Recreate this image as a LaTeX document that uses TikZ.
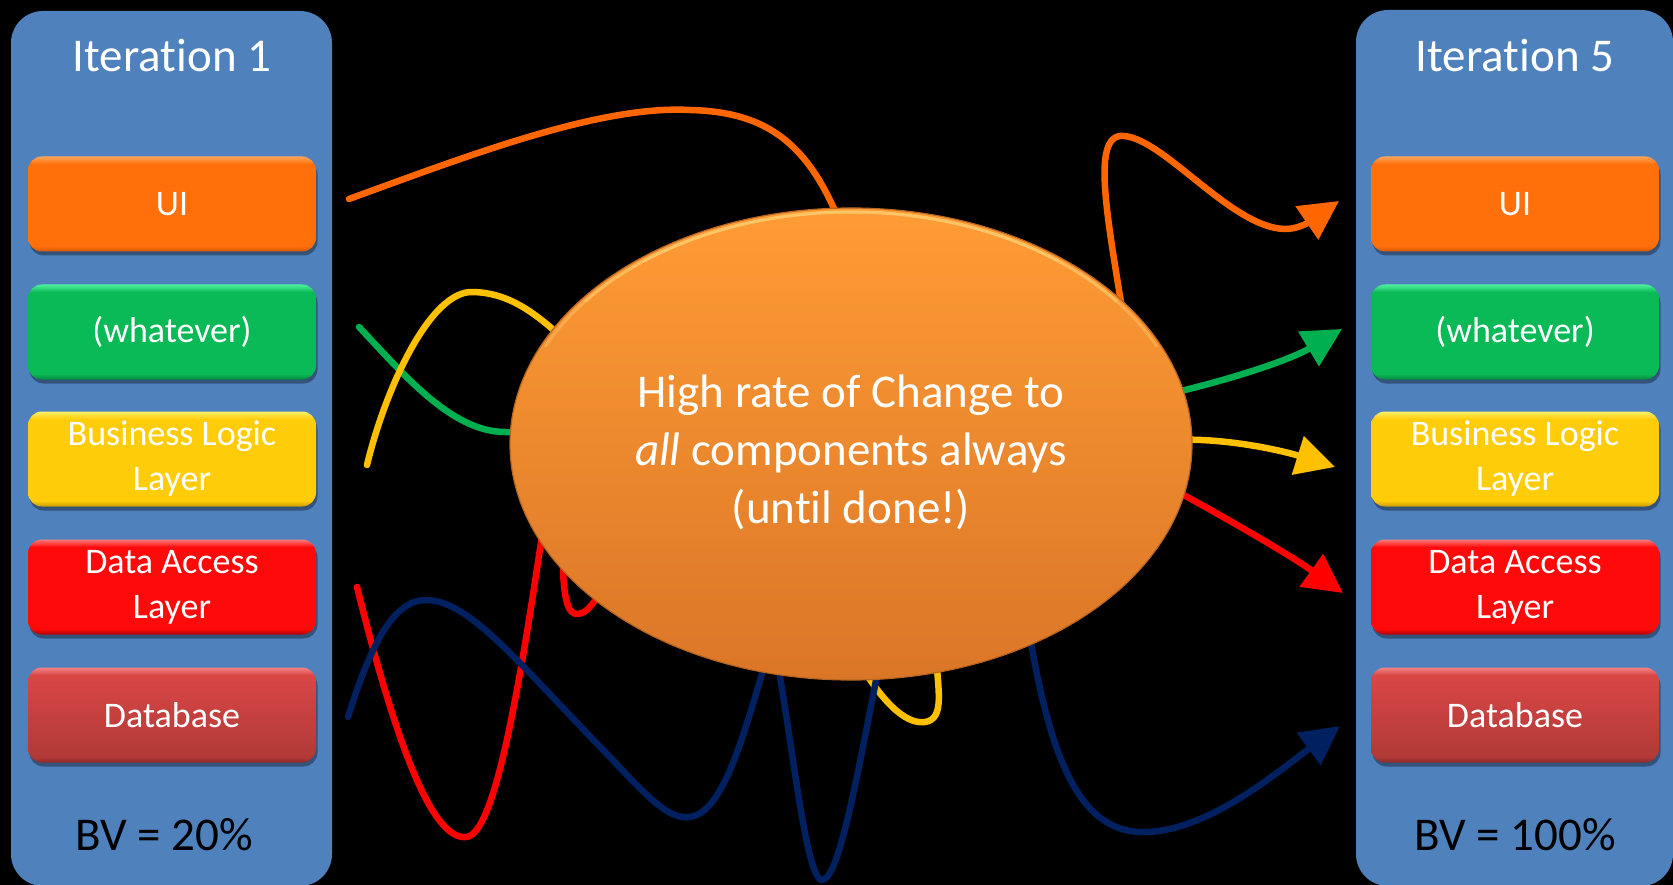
\documentclass[tikz,border=0pt]{standalone}
\usepackage{fontspec}
\setmainfont{Carlito}[Ligatures=CommonOff]
\usetikzlibrary{arrows.meta,shapes.geometric,shadows}
\definecolor{panelblue}{HTML}{4F81BD}
\definecolor{uiD}{HTML}{D65A00}\definecolor{uiM}{HTML}{FF6F0A}\definecolor{uiL}{HTML}{FFA55A}
\definecolor{grD}{HTML}{06873E}\definecolor{grM}{HTML}{0ABA56}\definecolor{grL}{HTML}{4DF29A}
\definecolor{yeD}{HTML}{C99A00}\definecolor{yeM}{HTML}{FFCC0A}\definecolor{yeL}{HTML}{FFF06A}
\definecolor{reD}{HTML}{B00000}\definecolor{reM}{HTML}{FF0A0A}\definecolor{reL}{HTML}{FF7A7A}
\definecolor{dbD}{HTML}{8E2A28}\definecolor{dbB}{HTML}{B13A37}\definecolor{dbT}{HTML}{D94646}\definecolor{dbL}{HTML}{F48484}
\definecolor{lnOrange}{HTML}{FF6600}
\definecolor{lnGreen}{HTML}{00B050}
\definecolor{lnYellow}{HTML}{FFC000}
\definecolor{lnRed}{HTML}{FF0000}
\definecolor{lnNavy}{HTML}{002060}
\definecolor{ellTop}{HTML}{FF9C35}
\definecolor{ellBot}{HTML}{DA7627}
\definecolor{ellEdge}{HTML}{B9651F}
\definecolor{ellRim}{HTML}{FFD77A}
\pgfdeclareverticalshading{uishade}{100bp}{color(0bp)=(uiD); color(25bp)=(uiD); color(28bp)=(uiM); color(71bp)=(uiM); color(75bp)=(uiL); color(100bp)=(uiL)}
\pgfdeclareverticalshading{grshade}{100bp}{color(0bp)=(grD); color(25bp)=(grD); color(28bp)=(grM); color(71bp)=(grM); color(75bp)=(grL); color(100bp)=(grL)}
\pgfdeclareverticalshading{yeshade}{100bp}{color(0bp)=(yeD); color(25bp)=(yeD); color(28bp)=(yeM); color(71bp)=(yeM); color(75bp)=(yeL); color(100bp)=(yeL)}
\pgfdeclareverticalshading{reshade}{100bp}{color(0bp)=(reD); color(25bp)=(reD); color(28bp)=(reM); color(71bp)=(reM); color(75bp)=(reL); color(100bp)=(reL)}
\pgfdeclareverticalshading{dbshade}{100bp}{color(0bp)=(dbD); color(25bp)=(dbD); color(28bp)=(dbB); color(71bp)=(dbT); color(75bp)=(dbL); color(100bp)=(dbL)}
\tikzset{
  panel/.style={fill=panelblue, rounded corners=32pt},
  comp/.style={shading=#1, rounded corners=14pt, minimum width=288pt, minimum height=95pt,
    inner sep=0pt, align=center, text=white, font=\fontsize{36}{45}\selectfont,
    drop shadow={shadow xshift=1.5pt, shadow yshift=-4pt, opacity=0.35, fill=black}},
  title/.style={anchor=base, text=white, font=\fontsize{47}{58}\selectfont, inner sep=0pt},
  bvtext/.style={anchor=base, text=black, font=\fontsize{47}{58}\selectfont, inner sep=0pt},
  wire/.style={line width=6.5pt, line cap=round, line join=round},
  arr/.style={wire, -{Triangle[length=39pt,width=39pt]}},
  rim/.style={draw=ellRim, line width=3pt, line cap=round},
}
\begin{document}
\begin{tikzpicture}[x=1pt,y=-1pt]
\useasboundingbox (0,0) rectangle (1673,885);
\fill[black] (0,0) rectangle (1673,885);
\clip (0,0) rectangle (1673,885);
% panels
\path[panel] (11,11) rectangle (332,886);
\path[panel] (1356,10) rectangle (1673,886);
\node[title] (it1) at (172,72) {Iteration 1};
\node[title] (it5) at (1515,72) {Iteration 5};
\node[bvtext] (bv1) at (164,850) {BV = 20\%};
\node[bvtext] (bv5) at (1515,850) {BV = 100\%};
% left components
\node[comp=uishade] (ui1) at (172,204) {UI};
\node[comp=grshade] (wh1) at (172,332) {(whatever)};
\node[comp=yeshade] (bl1) at (172,459) {Business Logic\\Layer};
\node[comp=reshade] (da1) at (172,587) {Data Access\\Layer};
\node[comp=dbshade] (db1) at (172,715) {Database};
% right components
\node[comp=uishade] (ui5) at (1515,204) {UI};
\node[comp=grshade] (wh5) at (1515,332) {(whatever)};
\node[comp=yeshade] (bl5) at (1515,459) {Business Logic\\Layer};
\node[comp=reshade] (da5) at (1515,587) {Data Access\\Layer};
\node[comp=dbshade] (db5) at (1515,715) {Database};
% curve ends
\coordinate (oS) at (349,199);
\coordinate (oT) at (1339,201);
\coordinate (gS) at (359,327);
\coordinate (gT) at (1342,329);
\coordinate (yS) at (367,465);
\coordinate (yT) at (1335,467);
\coordinate (rS) at (357,587);
\coordinate (rT) at (1343,593);
\coordinate (nS) at (348,717);
\coordinate (nT) at (1340,726);
% orange
\draw[wire, lnOrange] (oS) .. controls (470,155) and (600,105) .. (690,110)
   .. controls (770,112) and (815,145) .. (850,250);
\draw[arr, lnOrange] (1127,340) .. controls (1110,230) and (1090,140) .. (1120,136)
   .. controls (1160,133) and (1230,228) .. (1285,229)
   .. controls (1305,229) and (1320,214) .. (oT);
% green
\draw[wire, lnGreen] (gS) .. controls (400,370) and (450,432) .. (505,432) -- (540,432);
\draw[arr, lnGreen] (1160,396) .. controls (1230,380) and (1290,360) .. (gT);
% yellow
\draw[wire, lnYellow] (yS) .. controls (385,390) and (430,290) .. (473,292)
   .. controls (515,293) and (545,320) .. (585,360);
\draw[wire, lnYellow] (855,655) .. controls (880,700) and (905,725) .. (925,722)
   .. controls (945,719) and (938,690) .. (936,655);
\draw[arr, lnYellow] (1170,440) .. controls (1230,437) and (1290,453) .. (yT);
% red
\draw[wire, lnRed] (rS) .. controls (400,760) and (435,840) .. (466,837)
   .. controls (495,835) and (520,690) .. (550,480);
\draw[wire, lnRed] (563,545) .. controls (562,600) and (568,615) .. (578,614)
   .. controls (588,613) and (594,602) .. (605,585);
\draw[arr, lnRed] (1160,482) .. controls (1230,520) and (1290,555) .. (rT);
% navy
\draw[wire, lnNavy] (nS) .. controls (372,640) and (395,600) .. (426,600)
   .. controls (470,600) and (520,665) .. (610,757)
   .. controls (650,800) and (670,820) .. (690,817)
   .. controls (725,812) and (745,730) .. (772,640);
\draw[wire, lnNavy] (774,645) .. controls (790,720) and (805,880) .. (822,880)
   .. controls (840,880) and (860,760) .. (882,650);
\draw[arr, lnNavy] (1028,625) .. controls (1050,760) and (1080,835) .. (1147,832)
   .. controls (1210,830) and (1280,770) .. (nT);
% central ellipse
\node[ellipse, minimum width=682pt, minimum height=472pt, inner sep=0pt,
      top color=ellTop, bottom color=ellBot, draw=ellEdge, line width=1.2pt] (chg) at (851,444) {};
\draw[rim, opacity=0.35] (chg.center) ++(205:337 and 232) arc[start angle=205, end angle=335, x radius=337, y radius=232];
\draw[rim, opacity=0.35] (chg.center) ++(218:337 and 232) arc[start angle=218, end angle=322, x radius=337, y radius=232];
\draw[rim, opacity=0.35] (chg.center) ++(232:337 and 232) arc[start angle=232, end angle=308, x radius=337, y radius=232];
\node[text=white, align=center, font=\fontsize{47}{58}\selectfont, inner sep=0pt] (chgtxt) at (851,452)
  {High rate of Change to\\\textit{all} components always\\(until done!)};
\end{tikzpicture}
\end{document}
